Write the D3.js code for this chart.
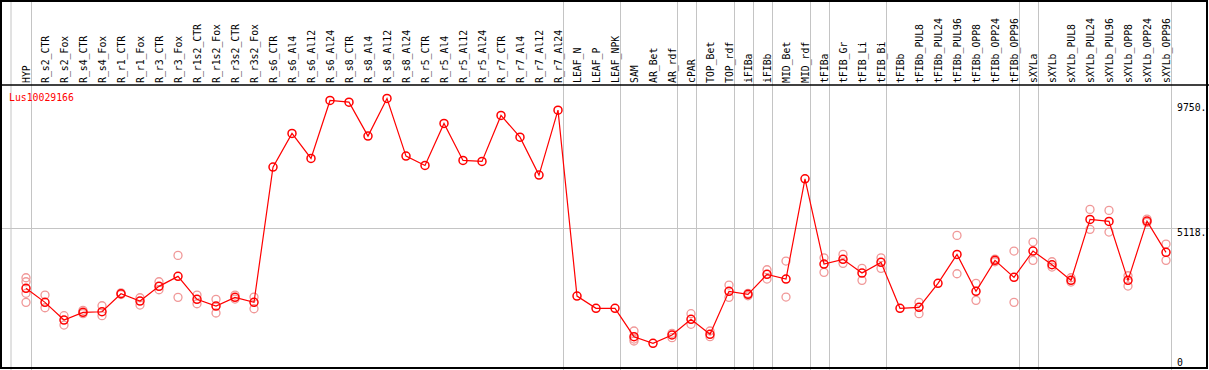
<!DOCTYPE html>
<html>
<head>
<meta charset="utf-8">
<script src="https://cdn.jsdelivr.net/npm/d3@7"></script>
<style>
  body { margin: 0; background: #fff; }
  text { font-family: "DejaVu Sans Mono", monospace; font-size: 9.8px; }
</style>
</head>
<body>
<div id="chart"></div>
<script>
// sample columns, left to right
const samples = [
    "HYP", "R_s2_CTR", "R_s2_Fox", "R_s4_CTR", "R_s4_Fox", "R_r1_CTR", "R_r1_Fox",
    "R_r3_CTR", "R_r3_Fox", "R_r1s2_CTR", "R_r1s2_Fox", "R_r3s2_CTR", "R_r3s2_Fox",
    "R_s6_CTR", "R_s6_Al4", "R_s6_Al12", "R_s6_Al24", "R_s8_CTR", "R_s8_Al4", "R_s8_Al12",
    "R_s8_Al24", "R_r5_CTR", "R_r5_Al4", "R_r5_Al12", "R_r5_Al24", "R_r7_CTR", "R_r7_Al4",
    "R_r7_Al12", "R_r7_Al24", "LEAF_N", "LEAF_P", "LEAF_NPK", "SAM", "AR_Bet", "AR_rdf",
    "cPAR", "TOP_Bet", "TOP_rdf", "iFIBa", "iFIBb", "MID_Bet", "MID_rdf", "tFIBa",
    "tFIB_Gr", "tFIB_Li", "tFIB_Bi", "tFIBb", "tFIBb_PUL8", "tFIBb_PUL24", "tFIBb_PUL96",
    "tFIBb_OPP8", "tFIBb_OPP24", "tFIBb_OPP96", "sXYLa", "sXYLb", "sXYLb_PUL8",
    "sXYLb_PUL24", "sXYLb_PUL96", "sXYLb_OPP8", "sXYLb_OPP24", "sXYLb_OPP96"
];

// mean expression per sample
const means = [
    2879, 2360, 1704, 1990, 2012, 2679, 2408, 2953, 3323, 2471, 2223, 2545, 2360,
    7373, 8622, 7695, 9844, 9781, 8522, 9918, 7781, 7436, 8992, 7621, 7584, 9288, 8484,
    7077, 9485, 2594, 2138, 2138, 1086, 841, 1149, 1730, 1174, 2768, 2656, 3397, 3223,
    6940, 3779, 3953, 3446, 3842, 2138, 2175, 3064, 4138, 2768, 3916, 3286, 4261, 3753,
    3175, 5435, 5361, 3175, 5372, 4213
];

// individual replicates per sample
const replicates = [
    [3272, 3123, 2694, 2360], [2631, 2160], [1864, 1519], [2064, 1938], [2234, 1864],
    [2650, 2710], [2531, 2260], [3123, 2827], [4101, 2545], [2631, 2308], [2471, 1964],
    [2631, 2482], [2556, 2123],
    [], [], [], [], [], [], [], [], [], [], [], [], [], [], [], [],
    [], [], [], [1297, 1000, 926], [], [1212, 1049], [1938, 1545], [1297, 1086],
    [3001, 2545], [2694, 2605], [3568, 3223], [3890, 2556], [], [4012, 3472],
    [4138, 3805], [3620, 3175], [4012, 3620], [], [2360, 1938], [], [4842, 3420],
    [3064, 2434], [3964, 3864], [4261, 2360], [4594, 3916], [3864, 3668], [3272, 3112],
    [5806, 5065], [5769, 4965], [3346, 2964], [5446, 5324], [4520, 3916]
];

// group separators come after these samples
const groupEnds = [
    "HYP", "R_r7_Al24", "LEAF_NPK", "AR_rdf", "cPAR", "TOP_rdf", "iFIBa", "iFIBb",
    "MID_rdf", "tFIBa", "tFIB_Bi", "tFIBb_OPP96", "sXYLa", "sXYLb_OPP96"
];

const yTicks = [9750, 5118, 0];
const yTickLabels = ["9750.", "5118.", "0"];
const gridValue = 5118;
const geneName = "Lus10029166";

const width = 1209, height = 370;
const headerH = 85, plotBottom = 366;

const svg = d3.select("#chart").append("svg")
    .attr("width", width)
    .attr("height", height);

svg.append("rect").attr("width", width).attr("height", height).attr("fill", "#fff");

const x = d3.scaleBand()
    .domain(samples)
    .range([16.5, 16.5 + samples.length * 19]);
const cx = s => x(s) + x.bandwidth() / 2;

const y = d3.scaleLinear()
    .domain([0, 9750])
    .range([plotBottom, 103]);

// grey separators
const grid = svg.append("g").attr("stroke", "#c4c4c4").attr("stroke-width", 1);
grid.append("line")
    .attr("x1", cx(samples[0]) - 15).attr("x2", cx(samples[0]) - 15)
    .attr("y1", 0).attr("y2", height);
grid.selectAll("line.sep")
    .data(groupEnds)
    .join("line")
    .attr("class", "sep")
    .attr("x1", d => Math.round(cx(d) + 4.5) + 0.5)
    .attr("x2", d => Math.round(cx(d) + 4.5) + 0.5)
    .attr("y1", 0).attr("y2", height);
grid.append("line")
    .attr("x1", 0).attr("x2", width)
    .attr("y1", Math.round(y(gridValue)) + 0.5)
    .attr("y2", Math.round(y(gridValue)) + 0.5);

// column labels
svg.append("g")
    .selectAll("text")
    .data(samples)
    .join("text")
    .attr("transform", d => `translate(${cx(d) + 4},${headerH - 2}) rotate(-90)`)
    .attr("fill", "#000")
    .text(d => d);

// header rule + frame
svg.append("line")
    .attr("x1", 0).attr("x2", width)
    .attr("y1", headerH).attr("y2", headerH)
    .attr("stroke", "#000").attr("stroke-width", 1.5);
svg.append("rect")
    .attr("x", 1).attr("y", 1)
    .attr("width", width - 3).attr("height", height - 3)
    .attr("fill", "none")
    .attr("stroke", "#000").attr("stroke-width", 2);

// y labels on the right
svg.append("g")
    .selectAll("text")
    .data(yTicks)
    .join("text")
    .attr("x", 1177)
    .attr("y", d => Math.min(y(d), plotBottom - 8) + 1)
    .attr("dominant-baseline", "hanging")
    .attr("fill", "#000")
    .text((d, i) => yTickLabels[i]);

svg.append("text")
    .attr("x", 9)
    .attr("y", 101)
    .attr("fill", "red")
    .text(geneName);

// replicates
const reps = samples.flatMap((s, i) => replicates[i].map(v => ({s, v})));
svg.append("g")
    .selectAll("circle")
    .data(reps)
    .join("circle")
    .attr("cx", d => cx(d.s))
    .attr("cy", d => y(d.v))
    .attr("r", 4)
    .attr("fill", "none")
    .attr("stroke", "#f09898")
    .attr("stroke-width", 1.3);

// mean line
const pts = samples.map((s, i) => ({s, v: means[i]}));
svg.append("path")
    .datum(pts)
    .attr("fill", "none")
    .attr("stroke", "red")
    .attr("stroke-width", 1.2)
    .attr("d", d3.line().x(d => cx(d.s)).y(d => y(d.v)));

svg.append("g")
    .selectAll("circle")
    .data(pts)
    .join("circle")
    .attr("cx", d => cx(d.s))
    .attr("cy", d => y(d.v))
    .attr("r", 4)
    .attr("fill", "none")
    .attr("stroke", "red")
    .attr("stroke-width", 1.5);
</script>
</body>
</html>
